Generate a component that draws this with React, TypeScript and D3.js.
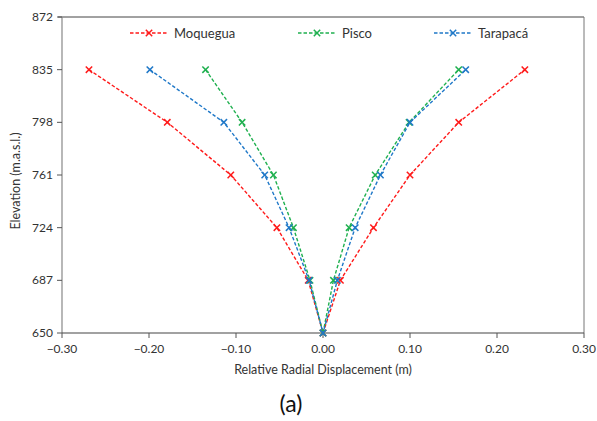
import React from "react";
import * as d3 from "d3";

// Elevation levels (m.a.s.l.) at which displacement is reported
const elevations = [835, 798, 761, 724, 687, 650];

// Relative radial displacement (m) on the upstream (negative) and downstream (positive) sides
const moqueguaLeft = [-0.269, -0.179, -0.106, -0.053, -0.017, 0.0];
const moqueguaRight = [0.232, 0.156, 0.1, 0.058, 0.02, 0.0];
const piscoLeft = [-0.135, -0.093, -0.057, -0.034, -0.015, 0.0];
const piscoRight = [0.156, 0.099, 0.06, 0.03, 0.012, 0.0];
const tarapacaLeft = [-0.199, -0.114, -0.067, -0.039, -0.016, 0.0];
const tarapacaRight = [0.164, 0.1, 0.066, 0.037, 0.0165, 0.0];

const seriesNames = ["Moquegua", "Pisco", "Tarapacá"];
const seriesColors = ["#ff1a1a", "#1fb04f", "#1f78c8"];

const xTicks = [-0.3, -0.2, -0.1, 0.0, 0.1, 0.2, 0.3];
const yTicks = [650, 687, 724, 761, 798, 835, 872];

const W = 597;
const H = 421;
const M = { left: 62, right: 584, top: 17, bottom: 333 };
const FONT = "Lato, 'Open Sans', sans-serif";

type Pt = { x: number; y: number };

function buildSeries(left: number[], right: number[]): Pt[] {
  const pts: Pt[] = [];
  left.forEach((v, i) => pts.push({ x: v, y: elevations[i] }));
  for (let i = right.length - 2; i >= 0; i--) pts.push({ x: right[i], y: elevations[i] });
  return pts;
}

const Cross = ({ cx, cy, color }: { cx: number; cy: number; color: string }) => {
  const s = 3.2;
  return (
    <g stroke={color} strokeWidth={1.5}>
      <line x1={cx - s} y1={cy - s} x2={cx + s} y2={cy + s} />
      <line x1={cx - s} y1={cy + s} x2={cx + s} y2={cy - s} />
    </g>
  );
};

export default function App() {
  const x = d3.scaleLinear().domain([-0.3, 0.3]).range([M.left, M.right]);
  const y = d3.scaleLinear().domain([650, 872]).range([M.bottom, M.top]);

  const all = [
    buildSeries(moqueguaLeft, moqueguaRight),
    buildSeries(piscoLeft, piscoRight),
    buildSeries(tarapacaLeft, tarapacaRight),
  ];

  const line = d3
    .line<Pt>()
    .x((d) => x(d.x))
    .y((d) => y(d.y));

  const legendX = [130, 298, 434];

  return (
    <svg width={W} height={H} style={{ position: "absolute", left: 0, top: 0, background: "#fff" }}>
      <rect width={W} height={H} fill="#fff" />
      {/* frame */}
      <line x1={M.left - 4} x2={M.right} y1={M.top} y2={M.top} stroke="#444" strokeWidth={1} />
      <line x1={M.right} x2={M.right} y1={M.top} y2={M.bottom} stroke="#777" strokeWidth={1} />
      <line x1={M.left} x2={M.left} y1={M.top} y2={M.bottom} stroke="#888" strokeWidth={1.2} />
      <line x1={M.left} x2={M.right} y1={M.bottom} y2={M.bottom} stroke="#444" strokeWidth={1.2} />

      {/* y axis ticks */}
      {yTicks.map((t) => (
        <g key={t}>
          <line x1={M.left - 5} x2={M.left} y1={y(t)} y2={y(t)} stroke="#555" />
          <text x={M.left - 9} y={y(t) + 4} textAnchor="end" fontSize={12} fontFamily={FONT} fill="#333">
            {t}
          </text>
        </g>
      ))}
      {/* x axis ticks */}
      {xTicks.map((t) => (
        <g key={t}>
          <line x1={x(t)} x2={x(t)} y1={M.bottom} y2={M.bottom + 5} stroke="#555" />
          <text x={x(t)} y={M.bottom + 20} textAnchor="middle" fontSize={12} fontFamily={FONT} fill="#333">
            {d3.format(".2f")(t)}
          </text>
        </g>
      ))}

      <text
        transform={`translate(20,181) rotate(-90)`}
        textAnchor="middle"
        fontSize={12.5}
        fontFamily={FONT}
        fill="#333"
      >
        Elevation (m.a.s.l.)
      </text>
      <text x={(M.left + M.right) / 2} y={374} textAnchor="middle" fontSize={12.5} fontFamily={FONT} fill="#333">
        Relative Radial Displacement (m)
      </text>
      <text x={291} y={412} textAnchor="middle" fontSize={23} fontFamily={FONT} fill="#111">
        (a)
      </text>

      {/* series */}
      {all.map((pts, si) => (
        <g key={si}>
          <path d={line(pts) || ""} fill="none" stroke={seriesColors[si]} strokeWidth={1.4} strokeDasharray="3.5,2" />
          {pts.map((p, i) => (
            <Cross key={i} cx={x(p.x)} cy={y(p.y)} color={seriesColors[si]} />
          ))}
        </g>
      ))}

      {/* legend */}
      {seriesNames.map((n, i) => (
        <g key={n}>
          <line
            x1={legendX[i]}
            x2={legendX[i] + 38}
            y1={33}
            y2={33}
            stroke={seriesColors[i]}
            strokeWidth={1.4}
            strokeDasharray="3.5,2"
          />
          <Cross cx={legendX[i] + 19} cy={33} color={seriesColors[i]} />
          <text x={legendX[i] + 44} y={37.5} fontSize={13} fontFamily={FONT} fill="#333">
            {n}
          </text>
        </g>
      ))}
    </svg>
  );
}
